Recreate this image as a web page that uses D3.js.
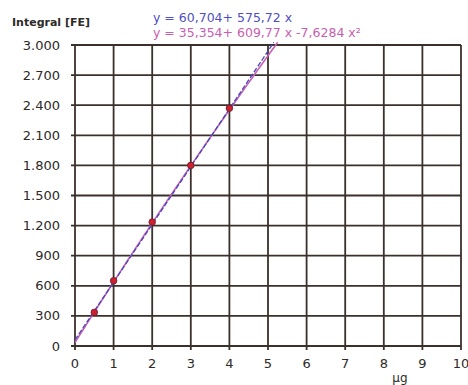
<!DOCTYPE html>
<html><head><meta charset="utf-8">
<script src="https://cdn.jsdelivr.net/npm/d3@7"></script>
<style>body{margin:0;background:#fff}svg{display:block}text{font-family:"DejaVu Sans",Verdana,sans-serif}</style>
</head><body>
<script>
const xTicks = [0,1,2,3,4,5,6,7,8,9,10];
const yTicks = [0,300,600,900,1200,1500,1800,2100,2400,2700,3000];
const yTickLabels = ["0","300","600","900","1.200","1.500","1.800","2.100","2.400","2.700","3.000"];
const pointX = [0.5, 1, 2, 3, 4];
const pointY = [335, 650, 1235, 1800, 2370];
const linearCoef = [60.704, 575.72];
const quadCoef = [35.354, 609.77, -7.6284];
const eqLinear = "y = 60,704+ 575,72 x";
const eqQuad = "y = 35,354+ 609,77 x -7,6284 x²";
const yTitle = "Integral [FE]";
const xTitle = "µg";

const W = 468, H = 385;
const svg = d3.select("body").append("svg").attr("width", W).attr("height", H);
const x = d3.scaleLinear().domain([0,10]).range([75, 461]);
const y = d3.scaleLinear().domain([0,3000]).range([346, 45]);
const gridColor = "#3a302c";
const textColor = "#2e2a28";

// grid
const g = svg.append("g");
g.selectAll(".hl").data(yTicks).join("line")
  .attr("x1", x(0)-4).attr("x2", x(10))
  .attr("y1", d=>y(d)).attr("y2", d=>y(d))
  .attr("stroke", gridColor).attr("stroke-width", 1.8);
g.selectAll(".vl").data(xTicks).join("line")
  .attr("x1", d=>x(d)).attr("x2", d=>x(d))
  .attr("y1", y(3000)).attr("y2", y(0)+4)
  .attr("stroke", gridColor).attr("stroke-width", 1.8);

// tick labels
svg.selectAll(".yl").data(yTicks).join("text")
  .attr("x", 60).attr("y", d=>y(d)+4.5).attr("text-anchor","end")
  .attr("font-size", 13).attr("fill", textColor)
  .text((d,i)=>yTickLabels[i]);
svg.selectAll(".xl").data(xTicks).join("text")
  .attr("x", d=>x(d)).attr("y", 368).attr("text-anchor","middle")
  .attr("font-size", 13).attr("fill", textColor)
  .text(d=>d);

svg.append("text").attr("x", 400).attr("y", 382).attr("text-anchor","middle")
  .attr("font-size", 12).attr("fill", textColor).text(xTitle);
svg.append("text").attr("x", 12).attr("y", 26)
  .attr("font-size", 11).attr("font-weight","bold").attr("fill", textColor).text(yTitle);

// fit curves
svg.append("clipPath").attr("id","pc").append("rect")
  .attr("x", x(0)).attr("y", y(3000)-3).attr("width", x(10)-x(0)).attr("height", y(0)-y(3000)+3);
const xs = d3.range(0, 10.001, 0.05);
const quadF = v => quadCoef[0] + quadCoef[1]*v + quadCoef[2]*v*v;
const linF = v => linearCoef[0] + linearCoef[1]*v;
const line = f => d3.line().x(d=>x(d)).y(d=>y(f(d)));
const qx = xs.filter(v => quadF(v) <= 3050);
const lx = xs.filter(v => linF(v) <= 3050);
svg.append("path").attr("d", line(quadF)(qx)).attr("fill","none")
  .attr("stroke","#c860b0").attr("stroke-width",1.6).attr("clip-path","url(#pc)");
svg.append("path").attr("d", line(linF)(lx)).attr("fill","none")
  .attr("stroke","#4848c0").attr("stroke-width",1.3).attr("stroke-dasharray","5,2").attr("clip-path","url(#pc)");

// points
svg.selectAll(".pt").data(pointX).join("circle")
  .attr("cx", d=>x(d)).attr("cy", (d,i)=>y(pointY[i])).attr("r", 3.3)
  .attr("fill", "#d02030").attr("stroke", "#602030").attr("stroke-width", 0.8);

// equations
svg.append("text").attr("x", 153).attr("y", 22).attr("font-size", 12.5).attr("fill", "#5050c0").text(eqLinear);
svg.append("text").attr("x", 153).attr("y", 37).attr("font-size", 12.5).attr("fill", "#c860b0").text(eqQuad);
</script>
</body></html>
